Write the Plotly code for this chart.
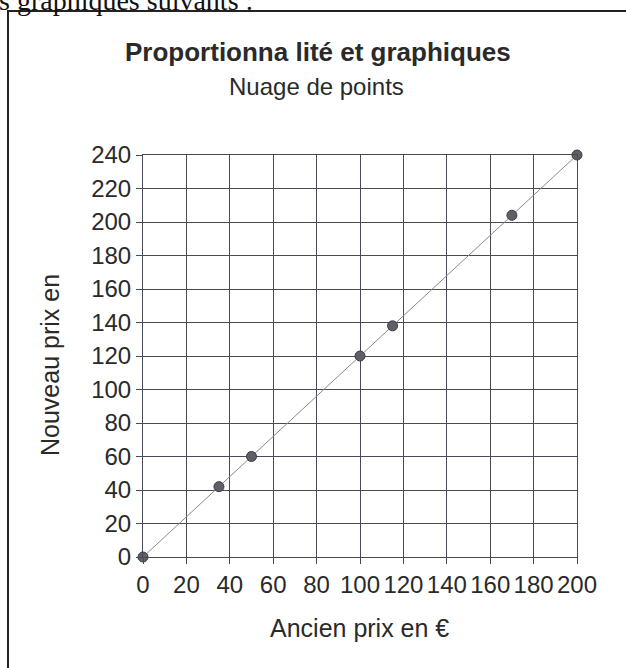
import plotly.graph_objects as go

# Data
ancien_prix = [0, 35, 50, 100, 115, 170, 200]
nouveau_prix = [0, 42, 60, 120, 138, 204, 240]
x_ticks = [0, 20, 40, 60, 80, 100, 120, 140, 160, 180, 200]
y_ticks = [0, 20, 40, 60, 80, 100, 120, 140, 160, 180, 200, 220, 240]

W, H = 626, 668
L, R, T, B = 143, 577, 155, 557  # plot area pixel bounds
pw, ph = R - L, B - T

def px(x):
    return (x - L) / pw

def py(y):
    return (B - y) / ph

FONT = "Arial, Liberation Sans, sans-serif"
TXT = "#2a2a2a"
GRID = "#4a4a56"

fig = go.Figure()
fig.add_trace(go.Scatter(
    x=ancien_prix, y=nouveau_prix, mode="lines",
    line=dict(color="#8a8a8a", width=1), hoverinfo="skip", cliponaxis=False,
    showlegend=False))
fig.add_trace(go.Scatter(
    x=ancien_prix, y=nouveau_prix, mode="markers",
    marker=dict(size=10, color="#5f5f66", line=dict(color="#3a3a40", width=1)),
    cliponaxis=False, showlegend=False))

axis_common = dict(
    showgrid=True, gridcolor=GRID, gridwidth=1,
    showline=True, linecolor=GRID, linewidth=1, mirror=True,
    ticks="outside", ticklen=6, tickcolor=GRID, tickwidth=1,
    zeroline=False, tickfont=dict(family=FONT, size=24, color=TXT),
)

fig.update_xaxes(range=[0, 200], tickvals=x_ticks, ticktext=[str(v) for v in x_ticks],
                 **axis_common)
fig.update_yaxes(range=[0, 240], tickvals=y_ticks, ticktext=[str(v) for v in y_ticks],
                 **axis_common)

annotations = [
    dict(text="s graphiques suivants :", x=px(-3), y=py(0), xanchor="left", yanchor="middle",
         font=dict(family="Liberation Serif, Times New Roman, serif", size=28, color="#111")),
    dict(text="<b>Proportionna lité et graphiques</b>", x=px(318), y=py(52), xanchor="center",
         yanchor="middle", font=dict(family=FONT, size=26, color=TXT)),
    dict(text="Nuage de points", x=px(316), y=py(86), xanchor="center", yanchor="middle",
         font=dict(family=FONT, size=24, color=TXT)),
    dict(text="Ancien prix en €", x=px(359), y=py(628), xanchor="center", yanchor="middle",
         font=dict(family=FONT, size=25, color=TXT)),
    dict(text="Nouveau prix en", x=px(50), y=py(365), xanchor="center", yanchor="middle",
         textangle=-90, font=dict(family=FONT, size=25, color=TXT)),
]
for a in annotations:
    a.update(xref="paper", yref="paper", showarrow=False)

shapes = [
    dict(type="line", xref="paper", yref="paper", x0=px(8), x1=px(8), y0=py(11), y1=py(700),
         line=dict(color="#222", width=2)),
    dict(type="line", xref="paper", yref="paper", x0=px(7), x1=px(700), y0=py(11), y1=py(11),
         line=dict(color="#222", width=2)),
]

fig.update_layout(
    width=W, height=H,
    margin=dict(l=L, r=W - R, t=T, b=H - B, pad=0),
    paper_bgcolor="white", plot_bgcolor="white",
    annotations=annotations, shapes=shapes,
    showlegend=False,
)

fig.write_html("out.html", config={"displayModeBar": False})

# remove the browser's default page margin so the figure sits at (0, 0)
with open("out.html", encoding="utf-8") as f:
    html = f.read()
html = html.replace("<head>", "<head><style>html,body{margin:0;padding:0;overflow:hidden}</style>", 1)
with open("out.html", "w", encoding="utf-8") as f:
    f.write(html)
